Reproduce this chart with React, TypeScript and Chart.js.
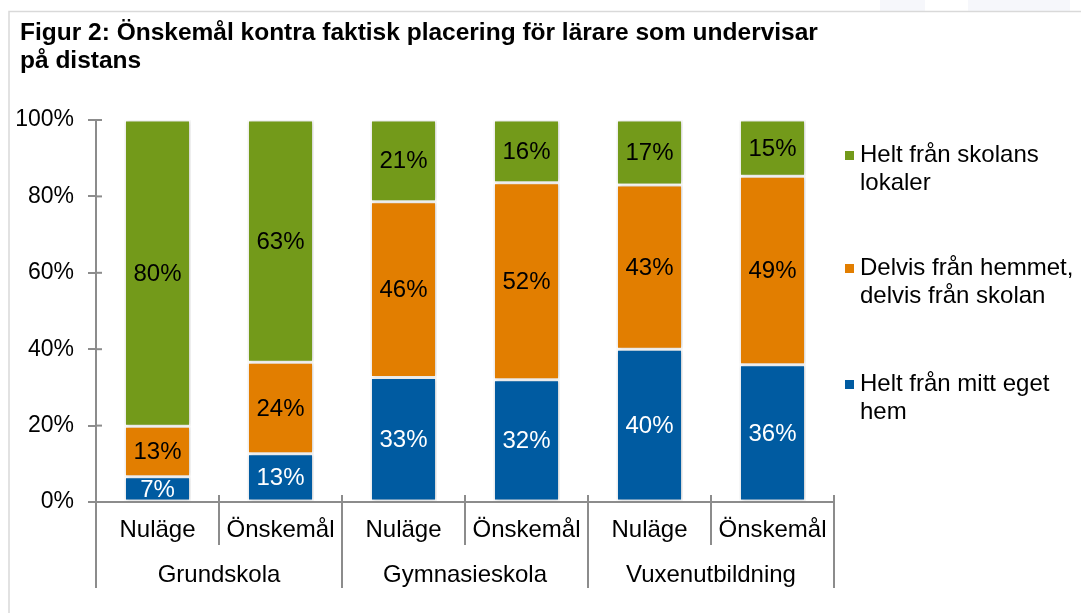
import React, { useEffect, useRef } from "react";
import { Chart, registerables } from "chart.js";

Chart.register(...registerables);

const titleLines = [
  "Figur 2: Önskemål kontra faktisk placering för lärare som undervisar",
  "på distans",
];
const categories = ["Nuläge", "Önskemål", "Nuläge", "Önskemål", "Nuläge", "Önskemål"];
const groups = ["Grundskola", "Gymnasieskola", "Vuxenutbildning"];
const seriesNames = [
  "Helt från mitt eget hem",
  "Delvis från hemmet, delvis från skolan",
  "Helt från skolans lokaler",
];
const legendLines = [
  ["Helt från skolans", "lokaler"],
  ["Delvis från hemmet,", "delvis från skolan"],
  ["Helt från mitt eget", "hem"],
];
const hemma = [6.6, 12.6, 32.6, 32.0, 40.0, 35.9];
const delvis = [13.2, 24.0, 46.0, 51.6, 43.0, 49.4];
const skolan = [80.2, 63.4, 21.4, 16.4, 17.0, 14.7];
const yTicks = [0, 20, 40, 60, 80, 100];

const BLUE = "#005BA1";
const ORANGE = "#E27E00";
const GREEN = "#739A1A";
const AXIS = "#8C8C8C";
const FONT = "'Liberation Sans', Arial, sans-serif";

const W = 1081;
const H = 613;

const decorPlugin = {
  id: "decor",
  beforeDraw(chart: any) {
    const ctx = chart.ctx;
    ctx.save();
    ctx.fillStyle = "#ffffff";
    ctx.fillRect(0, 0, W, H);
    ctx.fillStyle = "#f6f7fb";
    ctx.fillRect(880, 0, 45, 11);
    ctx.fillRect(968, 0, 102, 11);
    // frame
    ctx.strokeStyle = "#d9d9d9";
    ctx.lineWidth = 1.5;
    ctx.beginPath();
    ctx.moveTo(W, 11.5);
    ctx.lineTo(9, 11.5);
    ctx.lineTo(9, H);
    ctx.stroke();
    // title
    ctx.fillStyle = "#000";
    ctx.font = `bold 24.5px ${FONT}`;
    ctx.textAlign = "left";
    ctx.textBaseline = "alphabetic";
    ctx.fillText(titleLines[0], 20, 40);
    ctx.fillText(titleLines[1], 20, 68);
    ctx.restore();
  },
  beforeDatasetsDraw(chart: any) {
    const ctx = chart.ctx;
    ctx.save();
    ctx.shadowColor = "rgba(0,0,0,0.22)";
    ctx.shadowBlur = 4;
    ctx.shadowOffsetX = 1;
    ctx.shadowOffsetY = 0;
  },
  afterDatasetsDraw(chart: any) {
    const ctx = chart.ctx;
    ctx.restore();
    ctx.save();
    ctx.font = `24px ${FONT}`;
    ctx.textAlign = "center";
    ctx.textBaseline = "middle";
    chart.data.datasets.forEach((ds: any, di: number) => {
      const meta = chart.getDatasetMeta(di);
      meta.data.forEach((el: any, i: number) => {
        const v = ds.data[i];
        const cy = (el.y + el.base) / 2;
        ctx.fillStyle = di === 0 ? "#ffffff" : "#000000";
        ctx.fillText(Math.round(v) + "%", el.x, cy + 1);
      });
    });
    ctx.restore();
  },
  afterDraw(chart: any) {
    const ctx = chart.ctx;
    const xs = chart.scales.x;
    const ys = chart.scales.y;
    const area = chart.chartArea;
    ctx.save();
    ctx.strokeStyle = AXIS;
    ctx.lineWidth = 2;
    yTicks.forEach((t) => {
      const y = ys.getPixelForValue(t);
      ctx.beginPath();
      ctx.moveTo(area.left, y);
      ctx.lineTo(area.left + 6, y);
      ctx.stroke();
    });
    ctx.beginPath();
    ctx.moveTo(area.left - 8, area.bottom);
    ctx.lineTo(area.left, area.bottom);
    ctx.stroke();
    const step = (area.right - area.left) / categories.length;
    for (let j = 0; j <= categories.length; j++) {
      const x = area.left + j * step;
      ctx.beginPath();
      ctx.moveTo(x, area.bottom - 7);
      ctx.lineTo(x, j % 2 === 0 ? 588 : 545);
      ctx.stroke();
    }
    ctx.fillStyle = "#000";
    ctx.font = `24px ${FONT}`;
    ctx.textAlign = "center";
    ctx.textBaseline = "middle";
    categories.forEach((c, i) => {
      ctx.fillText(c, xs.getPixelForValue(i), 530);
    });
    groups.forEach((g, gi) => {
      const x = (xs.getPixelForValue(gi * 2) + xs.getPixelForValue(gi * 2 + 1)) / 2;
      ctx.fillText(g, x, 575);
    });
    const legendColors = [GREEN, ORANGE, BLUE];
    const legendY = [155, 268, 384];
    ctx.textAlign = "left";
    legendLines.forEach((lines, li) => {
      ctx.fillStyle = legendColors[li];
      ctx.fillRect(845, legendY[li] - 4, 9, 9);
      ctx.fillStyle = "#000";
      lines.forEach((ln, k) => {
        ctx.fillText(ln, 860, legendY[li] + k * 28);
      });
    });
    ctx.restore();
  },
};

export default function App() {
  const ref = useRef<HTMLCanvasElement>(null);
  useEffect(() => {
    if (!ref.current) return;
    const common = {
      borderColor: "#ffffff",
      borderWidth: 1.5,
      borderSkipped: false,
      barPercentage: 0.537,
      categoryPercentage: 1,
    };
    const chart = new Chart(ref.current, {
      type: "bar",
      data: {
        labels: categories,
        datasets: [
          { label: seriesNames[0], data: hemma, backgroundColor: BLUE, ...common },
          { label: seriesNames[1], data: delvis, backgroundColor: ORANGE, ...common },
          { label: seriesNames[2], data: skolan, backgroundColor: GREEN, ...common },
        ] as any,
      },
      options: {
        responsive: false,
        animation: false,
        layout: { padding: { left: 0, right: W - 834, top: 120, bottom: 0 } },
        plugins: {
          legend: { display: false },
          title: { display: false },
          tooltip: { enabled: false },
        },
        scales: {
          x: {
            stacked: true,
            grid: { display: false },
            ticks: { display: false },
            border: { display: true, color: AXIS, width: 2 },
            afterFit: (s: any) => {
              s.height = H - 120 - 382;
            },
          },
          y: {
            stacked: true,
            min: 0,
            max: 100,
            ticks: {
              stepSize: 20,
              padding: 14,
              color: "#000",
              font: { family: FONT, size: 23 },
              callback: (v: any) => v + "%",
            },
            grid: {
              display: true,
              drawOnChartArea: false,
              drawTicks: true,
              tickLength: 8,
              color: AXIS,
              lineWidth: 2,
            },
            border: { display: true, color: AXIS, width: 2 },
            afterFit: (s: any) => {
              s.width = 96;
            },
          },
        },
      },
      plugins: [decorPlugin],
    });
    return () => chart.destroy();
  }, []);
  return (
    <div style={{ position: "absolute", left: 0, top: 0, width: W, height: H }}>
      <canvas ref={ref} width={W} height={H} style={{ width: W, height: H, display: "block" }} />
    </div>
  );
}
